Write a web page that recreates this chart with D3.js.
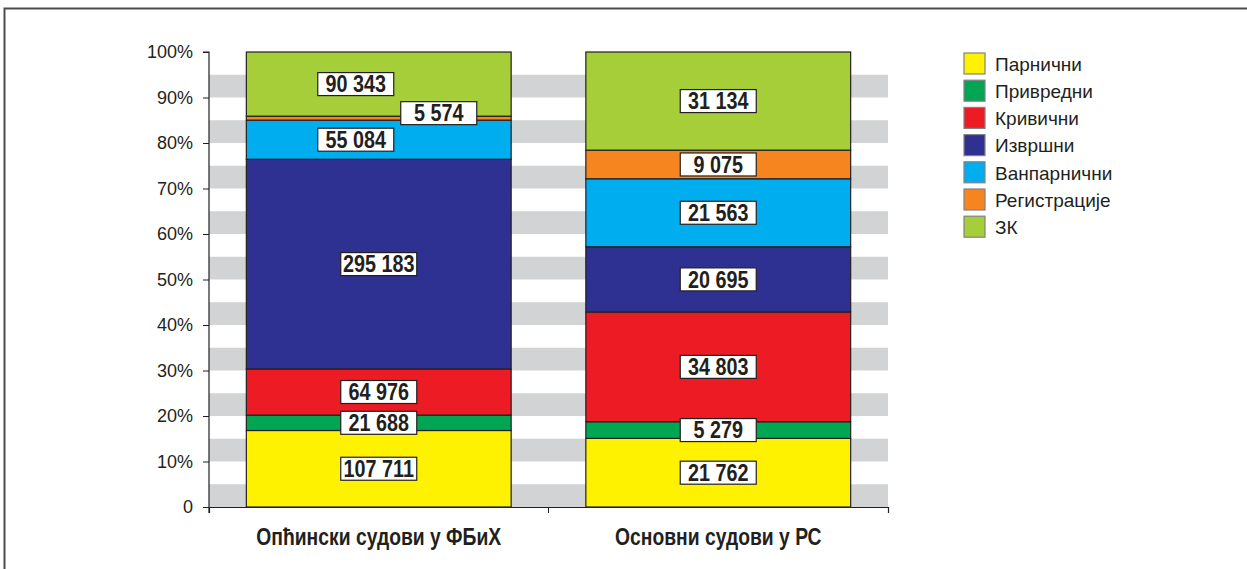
<!DOCTYPE html>
<html>
<head>
<meta charset="utf-8">
<script src="https://cdn.jsdelivr.net/npm/d3@7"></script>
<style>
  body { margin: 0; background: #fff; }
  svg text { font-family: "Liberation Sans", Arial, sans-serif; fill: #231f20; }
  .val { font-weight: bold; font-size: 23px; }
  .cat { font-weight: bold; font-size: 23px; }
</style>
</head>
<body>
<svg class="chart"></svg>
<script>
var categories = ['Опћински судови у ФБиХ', 'Основни судови у РС'];
var series = ['Парнични', 'Привредни', 'Кривични', 'Извршни', 'Ванпарнични', 'Регистрације', 'ЗК'];
var colors = ['#fff200', '#00a651', '#ed1c24', '#2e3192', '#00aeef', '#f7851f', '#a6ce39'];
var fbihValues = [107711, 21688, 64976, 295183, 55084, 5574, 90343];
var rsValues = [21762, 5279, 34803, 20695, 21563, 9075, 31134];
var tickLabels = ['0', '10%', '20%', '30%', '40%', '50%', '60%', '70%', '80%', '90%', '100%'];

(function() {
  'use strict';
var width = 1247,
    height = 569;
var margin = {top: 52, left: 209, right: 359, bottom: 62};

var svg = d3.select('.chart')
    .attr('width', width)
    .attr('height', height);

// frame (top + left only)
svg.append('path')
    .attr('d', 'M4.5,' + height + 'V8.5H' + width)
    .attr('fill', 'none')
    .attr('stroke', '#4d4d4f')
    .attr('stroke-width', 2);

var x = d3.scaleBand()
    .domain(categories)
    .range([margin.left, width - margin.right])
    .paddingInner(0.22)
    .paddingOuter(0.11);

var y = d3.scaleLinear()
    .domain([0, 1])
    .range([height - margin.bottom, margin.top]);

// grey bands
var bands = d3.range(0, 1, 0.1);
svg.selectAll('.band')
    .data(bands)
  .enter().append('rect')
    .attr('class', 'band')
    .attr('x', margin.left)
    .attr('width', width - margin.right - margin.left)
    .attr('y', function(d) { return y(d + 0.05); })
    .attr('height', function(d) { return y(d) - y(d + 0.05); })
    .attr('fill', '#d1d3d4');

var data = [fbihValues, rsValues].map(function(vals, i) {
  var total = d3.sum(vals), acc = 0;
  return vals.map(function(v, j) {
    var d = {cat: categories[i], s: j, value: v, y0: acc / total, y1: (acc + v) / total};
    acc += v;
    return d;
  });
});

var bar = svg.selectAll('.bar')
    .data(data)
  .enter().append('g')
    .attr('class', 'bar');

bar.selectAll('rect')
    .data(function(d) { return d; })
  .enter().append('rect')
    .attr('x', function(d) { return x(d.cat); })
    .attr('width', x.bandwidth())
    .attr('y', function(d) { return y(d.y1); })
    .attr('height', function(d) { return y(d.y0) - y(d.y1); })
    .attr('fill', function(d) { return colors[d.s]; })
    .attr('stroke', '#231f20')
    .attr('stroke-width', 1.2);

// manual nudges of a few labels, like the original
function nudge(d) {
  if (d.cat === categories[0] && d.s === 5) return [60, -5];
  if (d.cat === categories[0] && (d.s === 6 || d.s === 4)) return [-23, 0];
  return [0, 0];
}

var lab = bar.selectAll('.lab')
    .data(function(d) { return d; })
  .enter().append('g')
    .attr('class', 'lab')
    .attr('transform', function(d) {
      var n = nudge(d);
      return 'translate(' + (x(d.cat) + x.bandwidth() / 2 + n[0]) + ',' + (y((d.y0 + d.y1) / 2) + n[1]) + ')';
    });

lab.append('rect')
    .attr('x', -38)
    .attr('y', -11.5)
    .attr('width', 76)
    .attr('height', 23)
    .attr('fill', '#fff')
    .attr('stroke', '#231f20')
    .attr('stroke-width', 1.2);

// condensed bold look
lab.append('text')
    .attr('class', 'val')
    .attr('text-anchor', 'middle')
    .attr('dy', '0.36em')
    .attr('transform', 'scale(0.86,1)')
    .text(function(d) { return d3.format(',')(d.value).replace(/,/g, ' '); });

// y axis
var yAxis = d3.axisLeft(y)
    .tickValues(d3.range(0, 1.01, 0.1))
    .tickSize(6)
    .tickFormat(function(d, i) { return tickLabels[i]; });

var ya = svg.append('g')
    .attr('transform', 'translate(' + margin.left + ',0)')
    .call(yAxis);
ya.select('.domain').attr('d', 'M-6,' + margin.top + 'H0V' + (height - margin.bottom + 6));
ya.selectAll('text').attr('x', -16).style('font-size', '18px').style('font-family', '"Liberation Sans", Arial, sans-serif');

// x axis
var xAxis = d3.axisBottom(x).tickSize(6).tickSizeOuter(6);
var xa = svg.append('g')
    .attr('transform', 'translate(0,' + (height - margin.bottom) + ')')
    .call(xAxis);
xa.selectAll('.tick line').remove();
xa.selectAll('.tick text')
    .attr('class', 'cat')
    .attr('y', 22)
    .attr('dy', '0.71em')
    .attr('transform', 'scale(0.84,1)')
    .style('font-size', null)
    .style('font-family', null);
xa.append('line')
    .attr('x1', (x(categories[0]) + x.bandwidth() + x(categories[1])) / 2)
    .attr('x2', (x(categories[0]) + x.bandwidth() + x(categories[1])) / 2)
    .attr('y1', 0).attr('y2', 6)
    .attr('stroke', '#231f20');
svg.selectAll('.domain').attr('stroke', '#231f20').attr('stroke-width', 1.2);
svg.selectAll('.tick line').attr('stroke', '#231f20');

// legend
var legend = svg.selectAll('.legend')
    .data(series)
  .enter().append('g')
    .attr('class', 'legend')
    .attr('transform', function(d, i) { return 'translate(964,' + (53 + i * 27.2) + ')'; });

legend.append('rect')
    .attr('width', 21)
    .attr('height', 21)
    .attr('fill', function(d, i) { return colors[i]; })
    .attr('stroke', '#808285')
    .attr('stroke-width', 1.2);

legend.append('text')
    .attr('x', 31)
    .attr('y', 11)
    .attr('dy', '0.36em')
    .style('font-size', '19px')
    .text(function(d) { return d; });
}());
</script>
</body>
</html>
